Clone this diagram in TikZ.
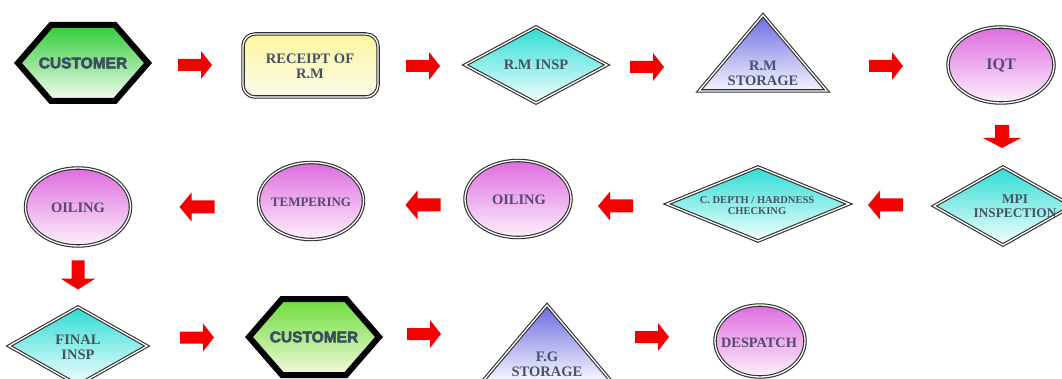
\documentclass[tikz,border=0pt]{standalone}
\usepackage{fontspec}
\setmainfont{Liberation Serif}
\newfontfamily\custfont{Liberation Sans}[BoldFeatures={FakeBold=3}]
\definecolor{txtslate}{HTML}{45535F}
\definecolor{txtpurple}{HTML}{574774}
\definecolor{txttri}{HTML}{4A5070}
\definecolor{custtxt}{HTML}{3A4E5E}
\definecolor{bordergray}{HTML}{2E2E2E}
\definecolor{arrowred}{HTML}{F40000}
\definecolor{diatop}{HTML}{2EDCD4}
\definecolor{diabot}{HTML}{F4FFFE}
\definecolor{tritop}{HTML}{6A6AE0}
\definecolor{tribot}{HTML}{F6F6FF}
\definecolor{elltop}{HTML}{DE6CDF}
\definecolor{ellbot}{HTML}{FCF0FC}
\definecolor{rectop}{HTML}{FDF59E}
\definecolor{recbot}{HTML}{FBFBEC}
\definecolor{hexatop}{HTML}{30CC36}
\definecolor{hexabot}{HTML}{F4FCF4}
\definecolor{hexbtop}{HTML}{6CDC3A}
\definecolor{hexbbot}{HTML}{F2F9DC}
\tikzset{
  dbl/.style={draw=bordergray, line width=1.1pt, double=white, double distance=1.3pt, line join=miter},
  lbl/.style={inner sep=0pt, align=center, text=txtslate, font=\bfseries\fontsize{14.5}{15}\selectfont},
  ellbl/.style={lbl, text=txtpurple},
  trilbl/.style={lbl, text=txttri},
  custlbl/.style={inner sep=0pt, text=custtxt, font=\custfont\bfseries\fontsize{15.5}{16}\selectfont},
  pics/hexa/.style 2 args={code={
    \shade[top color=#1, bottom color=#2] (-65,0)--(-32,-38)--(32,-38)--(65,0)--(32,38)--(-32,38)--cycle;
    \draw[line width=6pt, line join=miter] (-65,0)--(-32,-38)--(32,-38)--(65,0)--(32,38)--(-32,38)--cycle;
  }},
  pics/dia/.style 2 args={code={
    \shade[top color=diatop, bottom color=diabot] (-#1,0)--(0,-#2)--(#1,0)--(0,#2)--cycle;
    \draw[dbl] (-#1,0)--(0,-#2)--(#1,0)--(0,#2)--cycle;
  }},
  pics/tri/.style={code={
    \shade[top color=tritop, bottom color=tribot] (0,-38)--(64,38)--(-64,38)--cycle;
    \draw[dbl] (0,-38)--(64,38)--(-64,38)--cycle;
  }},
  pics/ell/.style 2 args={code={
    \shade[top color=elltop, bottom color=ellbot] (0,0) ellipse [x radius=#1, y radius=#2];
    \draw[dbl] (0,0) ellipse [x radius=#1, y radius=#2];
  }},
  pics/barrow/.style args={#1/#2/#3/#4}{code={
    \fill[arrowred] (-#1/2,-#2) -- (#1/2-#3,-#2) -- (#1/2-#3,-#4) -- (#1/2,0)
      -- (#1/2-#3,#4) -- (#1/2-#3,#2) -- (-#1/2,#2) -- cycle;
  }},
}
\begin{document}
\begin{tikzpicture}[x=1pt, y=-1pt]
\useasboundingbox (0,0) rectangle (1062,379);
\clip (0,0) rectangle (1062,379);
\fill[white] (0,0) rectangle (1062,379);

% ---------- row 1 ----------
\pic at (83,63) {hexa={hexatop}{hexabot}};
\node[custlbl] (cust1) at (83,63) {CUSTOMER};

\shade[top color=rectop, bottom color=recbot, rounded corners=12pt] (243,34) rectangle (378,97);
\draw[dbl, rounded corners=12pt] (243,34) rectangle (378,97);
\node[lbl] (receipt) at (310,66) {RECEIPT OF\\R.M};

\pic at (536,65) {dia={71}{38}};
\node[lbl] (rminsp) at (536,65) {R.M INSP};

\pic at (763,53) {tri};
\node[trilbl] (rmstore) at (763,73.5) {R.M\\STORAGE};

\pic at (1001,65) {ell={53}{38}};
\node[ellbl, font=\bfseries\fontsize{16}{17}\selectfont] (iqt) at (1001,66) {IQT};

\pic at (195,65) {barrow={34/6/11/14}};
\pic at (423,66) {barrow={34/6/11/14}};
\pic at (647,67) {barrow={34/6/11/14}};
\pic at (886,66) {barrow={34/6/11/14}};
\pic[rotate=-90] at (1002,136.5) {barrow={23/7/10/19}};

% ---------- row 2 ----------
\pic at (1003,206) {dia={69}{39}};
\node[lbl, font=\bfseries\fontsize{13.3}{14}\selectfont] (mpi) at (1015,206) {MPI\\INSPECTION};

\pic at (758,204) {dia={91}{37}};
\node[lbl, font=\bfseries\fontsize{10.5}{11}\selectfont] (cdepth) at (757,205.5) {C. DEPTH / HARDNESS\\CHECKING};

\pic at (518,199) {ell={53}{38.5}};
\node[ellbl] (oil1) at (519,200) {OILING};

\pic at (311,201) {ell={52.5}{38.5}};
\node[ellbl, font=\bfseries\fontsize{13}{14}\selectfont] (temper) at (311,202) {TEMPERING};

\pic at (78,207) {ell={52.5}{39}};
\node[ellbl] (oil2) at (78,208) {OILING};

\pic[rotate=180] at (885.5,205) {barrow={35/6.5/12/14.5}};
\pic[rotate=180] at (615.5,206) {barrow={35/6.5/12/14.5}};
\pic[rotate=180] at (423,205) {barrow={35/6.5/12/14.5}};
\pic[rotate=180] at (197,207) {barrow={35/6.5/12/14.5}};
\pic[rotate=-90] at (78,275) {barrow={29/6.5/11/17.5}};

% ---------- row 3 ----------
\pic at (78,346) {dia={69}{39}};
\node[lbl] (finalinsp) at (78,347.5) {FINAL\\INSP};

\pic at (314,337) {hexa={hexbtop}{hexbbot}};
\node[custlbl] (cust2) at (314,337) {CUSTOMER};

\pic at (547,343) {tri};
\node[trilbl] (fgstore) at (547,364.5) {F.G\\STORAGE};

\pic at (760,341) {ell={45}{36}};
\node[ellbl, font=\bfseries\fontsize{14.3}{15}\selectfont] (despatch) at (759,343) {DESPATCH};

\pic at (197,337.5) {barrow={34/6/11/14}};
\pic at (424,334) {barrow={34/6/11/14}};
\pic at (652,337) {barrow={34/6/11/14}};
\end{tikzpicture}
\end{document}
